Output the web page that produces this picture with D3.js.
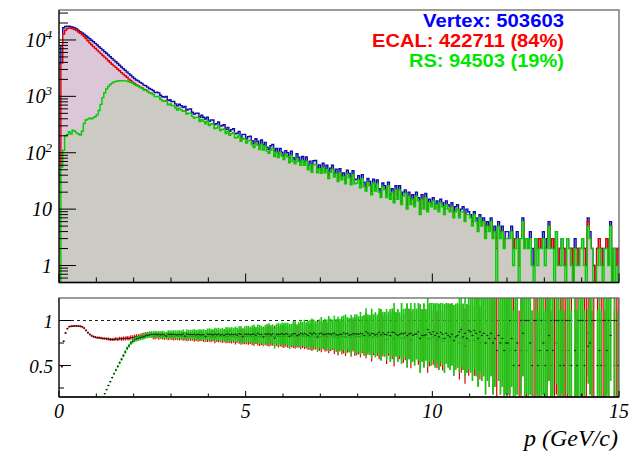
<!DOCTYPE html>
<html><head><meta charset="utf-8">
<script src="https://cdn.jsdelivr.net/npm/d3@7"></script>
<style>body{margin:0;background:#fff}svg{display:block}</style>
</head><body>
<script>
// ---------------- data (counts per 0.05 GeV/c bin, 0..15 GeV/c) ----------------
const binWidth = 0.05;
const vertex = [
3900,8000,16500,17300,17600,17500,17200,16800,16300,15700,
14800,14000,13300,12600,11900,11200,10500,9900,9300,8700,
8150,7600,7100,6650,6200,5800,5400,5050,4700,4400,
4100,3820,3560,3320,3100,2900,2710,2530,2370,2210,
2070,1950,1885,1770,1700,1585,1550,1460,1375,1330,
1270,1165,1180,1155,1045,985,975,995,840,869,
810,815,735,677,725,684,641,660,574,594,
597,524,486,505,503,425,461,427,397,426,
360,382,381,316,326,350,296,305,314,260,
282,241,257,268,217,222,239,189,212,212,
176,193,197,163,146,177,160,135,168,137,
153,126,115,133,141,107,119,97,119,102,
90,109,100,80,107,82,75,96,83,70,
86,70,84,60,71,53,72,73,54,61,
50,65,52,60,41,53,60,43,51,37,
52,39,44,33,49,43,32,48,33,34,
39,28,41,30,24,35,31,21,34,25,
33,23,19,29,26,19,30,18,23,15,
26,18,26,14,20,22,12,20,14,18,
13,20,16,10,18,12,19,10,15,13,
16,12,14,11,15,13,10,14,12,11,
13,9,11,12,8,10,11,7,10,9,
8,6,9,7,5,8,6,7,4,6,
5,7,4,5,3,6,4,5,3,4,
4,3,5,2,3,4,2,3,7,2,
3,2,4,2,1,3,2,3,2,4,
2,3,6,2,3,2,4,1,2,3,
2,1,3,2,2,0,3,2,1,2,
3,2,1,7,4,2,1,0,2,3,
2,1,2,3,1,6,0,2,1,2];
const ecal = [
30,3900,12700,14900,16000,16300,16100,15750,15300,14750,
13880,13090,12370,11530,10590,9690,8870,8220,7630,7090,
6600,6140,5715,5320,4960,4620,4290,3990,3710,3475,
3260,3020,2850,2640,2480,2320,2180,2025,1920,1790,
1687,1600,1545,1460,1411,1323,1302,1226,1162,1124,
1048,962,985,950,870,815,805,830,692,720,
670,668,610,562,596,568,528,548,471,490,
492,435,398,418,412,352,382,350,330,350,
298,314,316,258,270,288,246,250,260,214,
232,200,211,222,177,185,196,155,176,174,
146,158,163,134,120,147,131,111,138,113,
126,104,95,110,116,88,99,80,98,84,
74,90,82,66,88,68,62,79,69,58,
71,58,69,50,58,44,59,60,45,50,
41,54,43,49,34,44,50,35,42,30,
43,32,36,27,40,36,26,40,27,28,
32,23,34,25,20,29,26,17,28,21,
27,19,16,24,22,15,25,15,19,12,
22,15,21,12,16,18,10,17,11,15,
11,17,13,8,15,10,16,8,12,11,
13,10,11,9,12,10,8,12,10,9,
11,7,9,10,6,8,9,5,8,7,
7,5,7,6,4,6,5,6,3,5,
4,6,3,4,2,5,3,4,2,3,
3,2,4,2,3,3,1,2,6,2,
2,2,3,1,1,2,2,3,1,3,
2,2,5,1,3,2,3,1,2,2,
2,1,2,1,2,0,2,2,0,2,
2,2,1,6,3,1,1,0,2,3,
2,1,1,3,1,5,0,1,1,2];
const rs = [
0,55,110,200,210,235,215,250,240,225,
215,205,240,330,380,395,410,400,420,440,
470,560,720,950,1160,1350,1500,1620,1720,1800,
1845,1870,1890,1890,1890,1885,1870,1820,1780,1700,
1625,1550,1508,1434,1386,1300,1287,1219,1155,1124,
1075,990,996,978,880,835,818,822,712,735,
685,690,620,570,614,575,545,545,488,502,
505,442,412,424,425,358,388,360,326,362,
305,323,320,268,275,298,248,258,262,220,
240,203,218,226,184,186,204,160,174,180,
149,164,166,138,124,148,137,114,142,112,
130,107,98,112,120,86,101,82,101,87,
76,93,85,66,90,70,64,80,70,60,
73,60,71,50,61,45,62,62,44,52,
43,55,44,51,35,45,51,37,43,31,
44,33,38,28,42,36,27,41,28,29,
33,24,35,25,21,30,26,18,29,21,
28,20,16,25,22,16,26,15,20,13,
22,15,22,12,17,19,10,17,12,15,
11,17,14,8,15,10,16,9,13,11,
14,10,12,9,13,11,8,12,10,9,
11,7,9,10,7,9,9,6,8,8,
7,5,8,6,4,7,5,6,3,5,
4,6,3,4,0,5,3,4,2,3,
3,3,4,1,2,3,0,3,6,2,
3,2,3,1,0,3,1,2,2,3,
1,2,5,2,2,0,4,1,1,3,
1,0,3,2,1,0,2,1,1,2,
3,1,0,5,3,2,0,0,1,2,
1,0,2,2,1,5,0,2,0,1];
const legendLabels = ["Vertex: 503603", "ECAL: 422711 (84%)", "RS: 94503 (19%)"];
const logTickValues = [1, 10, 100, 1000, 10000];
const xTickLabels = [0, 5, 10, 15];
const ratioTickLabels = [0.5, 1];

// ---------------- layout ----------------
const W = 635, H = 462;
const L = 59, R = 619, T1 = 10, B1 = 282.5, T2 = 298, B2 = 397;
const svg = d3.select("body").append("svg").attr("width", W).attr("height", H);
const x = d3.scaleLinear().domain([0, 15]).range([L, R]);
const y = d3.scaleLog().domain([0.5, 34000]).range([B1, T1]).clamp(true);
const yr = d3.scaleLinear().domain([0.15, 1.25]).range([B2, T2]);

const defs = svg.append("defs");
defs.append("clipPath").attr("id", "c1").append("rect").attr("x", L).attr("y", T1).attr("width", R - L).attr("height", B1 - T1);
defs.append("clipPath").attr("id", "c2").append("rect").attr("x", L).attr("y", T2).attr("width", R - L).attr("height", B2 - T2);

// ---------------- top panel ----------------
const yv = v => v > 0 ? y(v) : B1;
function histPts(arr) {
  const pts = [[0, 0]];
  arr.forEach((v, i) => { pts.push([i * binWidth, v]); pts.push([(i + 1) * binWidth, v]); });
  pts.push([arr.length * binWidth, 0]);
  return pts;
}
const area = d3.area().x(d => x(d[0])).y0(B1).y1(d => yv(d[1]));
const line = d3.line().x(d => x(d[0])).y(d => yv(d[1]));
const series = [
  {data: vertex, fill: "#e3d6e7", stroke: "#0c0ca6"},
  {data: ecal, fill: "#dcc6d9", stroke: "#e00000"},
  {data: rs, fill: "#cbcbc3", stroke: "#00cc00"}
];
const g1 = svg.append("g").attr("clip-path", "url(#c1)");
series.forEach(s => {
  const pts = histPts(s.data);
  g1.append("path").attr("d", area(pts)).attr("fill", s.fill);
  g1.append("path").attr("d", line(pts)).attr("fill", "none").attr("stroke", s.stroke).attr("stroke-width", 1.4);
});

// frame
svg.append("rect").attr("x", L).attr("y", T1).attr("width", R - L).attr("height", B1 - T1)
  .attr("fill", "none").attr("stroke", "#666").attr("stroke-width", 1.3);
svg.append("line").attr("x1", L).attr("x2", L).attr("y1", T1).attr("y2", B1).attr("stroke", "#000");
svg.append("line").attr("x1", L).attr("x2", R).attr("y1", B1).attr("y2", B1).attr("stroke", "#000").attr("stroke-width", 1.3);

// log ticks
const tk = svg.append("g").attr("stroke", "#000").attr("stroke-width", 1);
const minorVals = [];
for (let e = -1; e <= 4; e++) for (let m = 1; m <= 9; m++) { const v = m * Math.pow(10, e); if (v >= 0.5 && v <= 34000) minorVals.push(v); }
minorVals.forEach(v => {
  const major = logTickValues.includes(v);
  tk.append("line").attr("x1", L).attr("x2", L + (major ? 17 : 9)).attr("y1", y(v)).attr("y2", y(v));
});
const intTicks = d3.range(0, 16);
intTicks.forEach(t => {
  const major = t % 5 === 0;
  tk.append("line").attr("x1", x(t)).attr("x2", x(t)).attr("y1", B1).attr("y2", B1 - (major ? 9 : 5));
});

const serif = "'Liberation Serif','Times New Roman',serif";
logTickValues.forEach(v => {
  const t = svg.append("text").attr("x", 52).attr("y", y(v) + 7).attr("text-anchor", "end")
    .attr("font-family", serif).attr("font-style", "italic").attr("font-size", 20);
  const ex = Math.round(Math.log10(v));
  if (ex < 2) t.text(String(v));
  else { t.append("tspan").text("10"); t.append("tspan").attr("font-size", 13).attr("dy", -8).text(String(ex)); }
});

// legend
const legendColors = ["#0000ff", "#ff0000", "#00e600"];
const legendW = [141, 192, 155];
legendLabels.forEach((s, i) => {
  svg.append("text").attr("x", 564).attr("y", 26.5 + i * 20).attr("text-anchor", "end")
    .attr("font-family", "'Liberation Sans',Arial,sans-serif").attr("font-weight", "bold").attr("font-size", 19)
    .attr("textLength", legendW[i]).attr("lengthAdjust", "spacingAndGlyphs")
    .attr("fill", legendColors[i]).text(s);
});

// ---------------- bottom (ratio) panel ----------------
function ratioPts(num, den) {
  return den.map((n, i) => {
    if (n <= 0 || num[i] <= 0) return null;
    const k = num[i], r = k / n;
    return {lo: i * binWidth, hi: (i + 1) * binWidth, c: (i + 0.5) * binWidth, r, e: r * Math.sqrt(1 / k + 1 / n)};
  }).filter(d => d);
}
const g2 = svg.append("g").attr("clip-path", "url(#c2)");
g2.append("line").attr("x1", L).attr("x2", R).attr("y1", yr(1)).attr("y2", yr(1))
  .attr("stroke", "#222").attr("stroke-dasharray", "3,3").attr("stroke-width", 1);
[[ecal, "#e00000", 1.2], [rs, "#11cc11", 1.6]].forEach(([arr, col, sw]) => {
  const pts = ratioPts(arr, vertex);
  const gg = g2.append("g");
  pts.forEach(d => {
    gg.append("line").attr("x1", x(d.c)).attr("x2", x(d.c)).attr("y1", yr(d.r - d.e)).attr("y2", yr(d.r + d.e))
      .attr("stroke", col).attr("stroke-width", sw);
    gg.append("line").attr("x1", x(d.lo)).attr("x2", x(d.hi)).attr("y1", yr(d.r)).attr("y2", yr(d.r))
      .attr("stroke", col).attr("stroke-width", 1);
  });
  pts.forEach(d => {
    gg.append("rect").attr("x", x(d.c) - 0.8).attr("y", yr(d.r) - 0.6).attr("width", 1.6).attr("height", 1.2).attr("fill", "#1a1a1a");
  });
});

svg.append("rect").attr("x", L).attr("y", T2).attr("width", R - L).attr("height", B2 - T2)
  .attr("fill", "none").attr("stroke", "#666").attr("stroke-width", 1.3);
svg.append("line").attr("x1", L).attr("x2", L).attr("y1", T2).attr("y2", B2).attr("stroke", "#000");
svg.append("line").attr("x1", L).attr("x2", R).attr("y1", B2).attr("y2", B2).attr("stroke", "#000").attr("stroke-width", 1.3);

const tk2 = svg.append("g").attr("stroke", "#000").attr("stroke-width", 1);
[0.25, 0.5, 0.75, 1].forEach(v => {
  const major = ratioTickLabels.includes(v);
  tk2.append("line").attr("x1", L).attr("x2", L + (major ? 12 : 5)).attr("y1", yr(v)).attr("y2", yr(v));
});
intTicks.forEach(t => {
  const major = t % 5 === 0;
  tk2.append("line").attr("x1", x(t)).attr("x2", x(t)).attr("y1", B2).attr("y2", B2 - (major ? 6 : 3.5));
});
ratioTickLabels.forEach(v => {
  svg.append("text").attr("x", 53).attr("y", yr(v) + 7).attr("text-anchor", "end")
    .attr("font-family", serif).attr("font-style", "italic").attr("font-size", 19).text(String(v));
});
xTickLabels.forEach(v => {
  svg.append("text").attr("x", x(v)).attr("y", 418).attr("text-anchor", "middle")
    .attr("font-family", serif).attr("font-style", "italic").attr("font-size", 20).text(String(v));
});
svg.append("text").attr("x", 618).attr("y", 446).attr("text-anchor", "end")
  .attr("font-family", serif).attr("font-style", "italic").attr("font-size", 24).text("p (GeV/c)");
</script>
</body></html>
